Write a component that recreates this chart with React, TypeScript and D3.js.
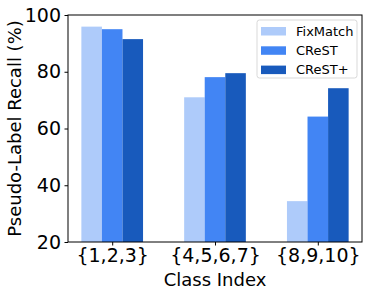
import { useEffect, useRef } from "react";
import * as d3 from "d3";

const categories = ["{1,2,3}", "{4,5,6,7}", "{8,9,10}"];
const seriesNames = ["FixMatch", "CReST", "CReST+"];
const fixMatch = [95.9, 71.0, 34.4];
const crest = [95.0, 78.1, 64.2];
const crestPlus = [91.5, 79.5, 74.2];
const yTicks = [20, 40, 60, 80, 100];
const colors = ["#aecbfa", "#4285f4", "#185abc"];

const W = 374;
const H = 296;
const FONT = "DejaVu Sans, sans-serif";

export default function App() {
  const svgRef = useRef<SVGSVGElement>(null);

  useEffect(() => {
    if (!svgRef.current) return;
    const svg = d3.select(svgRef.current);
    svg.selectAll("*").remove();

    const margin = { top: 15, right: 12, bottom: 54, left: 68 };
    const innerW = W - margin.left - margin.right;
    const innerH = H - margin.top - margin.bottom;

    const series = [fixMatch, crest, crestPlus];
    const barW = 0.2;

    // same limits as matplotlib's default 5% margin
    const x = d3.scaleLinear().domain([-0.43, 2.43]).range([0, innerW]);
    const y = d3.scaleLinear().domain([20, 100]).range([innerH, 0]);

    const g = svg
      .append("g")
      .attr("transform", `translate(${margin.left},${margin.top})`);

    series.forEach((vals, si) => {
      g.selectAll(null)
        .data(vals)
        .enter()
        .append("rect")
        .attr("x", (_, i) => x(i + (si - 1) * barW - barW / 2))
        .attr("width", x(barW) - x(0))
        .attr("y", (d) => y(d))
        .attr("height", (d) => innerH - y(d))
        .attr("fill", colors[si]);
    });

    // Axe Y
    const yAxis = g
      .append("g")
      .call(d3.axisLeft(y).tickValues(yTicks).tickSize(3.5).tickPadding(3.5));
    yAxis.selectAll("text").style("font-size", "19px").style("font-family", FONT).attr("fill", "#000");

    // Axe X
    const xAxis = g
      .append("g")
      .attr("transform", `translate(0,${innerH})`)
      .call(
        d3
          .axisBottom(x)
          .tickValues([0, 1, 2])
          .tickFormat((d) => categories[d as number])
          .tickSize(3.5)
          .tickPadding(3.5)
      );
    xAxis.selectAll("text").style("font-size", "19px").style("font-family", FONT).attr("fill", "#000");
    g.selectAll(".domain").remove();

    // cadre
    g.append("rect")
      .attr("width", innerW)
      .attr("height", innerH)
      .attr("fill", "none")
      .attr("stroke", "#000")
      .attr("stroke-width", 1);

    // Légende
    const lg = g.append("g").attr("transform", `translate(${innerW - 105},5)`);
    lg.append("rect")
      .attr("width", 100)
      .attr("height", 58)
      .attr("rx", 2.5)
      .attr("fill", "#fff")
      .attr("stroke", "#d9d9d9");
    seriesNames.forEach((name, i) => {
      lg.append("rect")
        .attr("x", 4)
        .attr("y", 7 + i * 19.3)
        .attr("width", 25)
        .attr("height", 8.5)
        .attr("fill", colors[i]);
      lg.append("text")
        .attr("x", 39)
        .attr("y", 11 + i * 19.3)
        .attr("dy", "0.35em")
        .style("font-size", "13px")
        .style("font-family", FONT)
        .text(name);
    });

    // Titres des axes
    svg
      .append("text")
      .attr("x", margin.left + innerW / 2)
      .attr("y", H - 10)
      .attr("text-anchor", "middle")
      .style("font-size", "18px")
      .style("font-family", FONT)
      .text("Class Index");

    svg
      .append("text")
      .attr("transform", `translate(21,${margin.top + innerH / 2}) rotate(-90)`)
      .attr("text-anchor", "middle")
      .style("font-size", "18px")
      .style("font-family", FONT)
      .text("Pseudo-Label Recall (%)");
  }, []);

  return (
    <svg
      ref={svgRef}
      width={W}
      height={H}
      style={{ position: "absolute", left: 0, top: 0, background: "#fff" }}
    />
  );
}
